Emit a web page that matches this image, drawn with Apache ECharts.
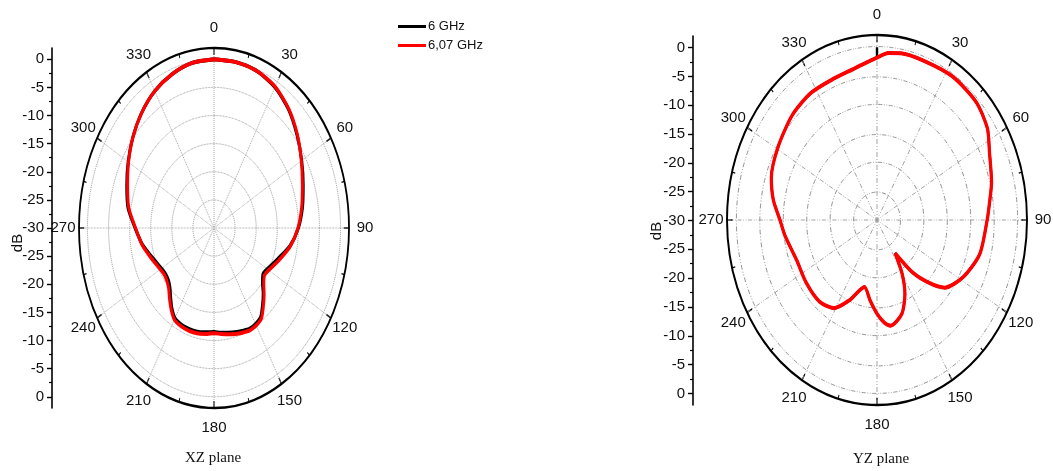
<!DOCTYPE html>
<html><head><meta charset="utf-8">
<script src="https://cdn.jsdelivr.net/npm/echarts@6/dist/echarts.min.js"></script>
<style>
html,body{margin:0;padding:0;background:#fff;}
#wrap{position:relative;width:1053px;height:471px;overflow:hidden;background:#fff;}
#xz,#yz{position:absolute;width:400px;height:400px;}
#xz{left:14px;top:28px;transform:scaleX(0.75);transform-origin:50% 50%;}
#yz{left:677px;top:20px;transform:scaleX(0.8108);transform-origin:50% 50%;}
#ov{position:absolute;left:0;top:0;width:1053px;height:471px;}
</style></head>
<body><div id="wrap"><div id="xz"></div><div id="yz"></div><div id="ov"></div></div>
<script>
// ---------- data ----------
const seriesNames = ['6 GHz', '6,07 GHz'];
const angleTicks = [0,30,60,90,120,150,180,210,240,270,300,330];
const radialTicks = [-30,-25,-20,-15,-10,-5,0];          // dB labels on the side scale
const radialMinor = [-27.5,-22.5,-17.5,-12.5,-7.5,-2.5];
const planeTitles = ['XZ plane', 'YZ plane'];

// XZ plane
const xzAngles = [0,10,20,30,40,50,60,70,80,90,100,110,120,125,130,135,140,145,150,155,160,165,170,175,180,185,190,195,200,205,210,215,220,225,230,235,240,250,260,270,280,290,300,310,320,330,340,350,360];
const xz6GHz   = [0,-0.05,-0.3,-1.1,-2.5,-4.3,-6.0,-7.5,-8.7,-10.0,-11.7,-13.9,-15.4,-15.8,-15.0,-13.5,-12.1,-10.7,-10.3,-10.2,-10.5,-10.8,-11.1,-11.3,-11.5,-11.4,-11.2,-11.1,-11.1,-11.2,-11.5,-12.6,-14.0,-15.2,-15.8,-15.9,-15.6,-14.5,-12.8,-11.3,-9.3,-8.0,-6.5,-4.9,-3.3,-1.9,-0.9,-0.2,0];
const xz607GHz = [0,-0.05,-0.3,-1.0,-2.4,-4.2,-6.1,-7.7,-8.9,-10.1,-11.6,-13.5,-15.0,-15.4,-14.6,-13.2,-11.8,-10.4,-10.0,-9.9,-10.2,-10.5,-10.8,-11.1,-11.3,-11.1,-10.9,-10.8,-10.8,-10.9,-11.2,-12.3,-13.6,-14.8,-15.4,-15.6,-15.3,-14.2,-12.7,-11.4,-9.5,-8.2,-6.6,-4.9,-3.3,-1.9,-0.9,-0.2,0];

// YZ plane
const yzAngles = [0,5,10,20,33,46,56,64,75,82,90,105,118,129,134,140,146,150,155,162,171,175,180,186,193,203,211,221,234,248,262,270,279,288,301,315,327,338,349,355,360];
const yz607GHz = [-1.9,-1.0,-0.7,-0.7,-0.4,-0.6,-1.6,-3.3,-4.7,-5.7,-6.5,-7.3,-9.1,-11.4,-14.2,-18.1,-23.1,-19.3,-15.9,-12.9,-11.5,-12.2,-13.8,-16.0,-18.1,-14.9,-12.2,-11.3,-11.4,-11.5,-10.2,-9.3,-7.6,-6.3,-5.4,-4.4,-3.9,-3.9,-3.4,-2.7,-1.9];
const yz6GHzStartAngle = [0];
const yz6GHzStart = [-0.1];
const yz6GHz = [-1.9,-1.0,-0.7,-0.7,-0.4,-0.6,-1.6,-3.3,-4.7,-5.7,-6.5,-7.3,-9.1,-11.4,-14.2,-18.1,-23.1,-19.3,-15.9,-12.9,-11.5,-12.2,-13.8,-16.0,-18.1,-14.9,-12.2,-11.3,-11.4,-11.5,-10.2,-9.3,-7.6,-6.3,-5.4,-4.4,-3.9,-3.9,-3.4,-2.7,-1.9];

// ---------- helpers ----------
const FONT = '"Liberation Sans", Arial, sans-serif';
function pairs(angles, vals){ return angles.map((a,i)=>[vals[i], a]); }

function polarOption(gridType, seriesList){
  const dotted = gridType === 'dotted' ? 'dotted' : [5,2,1,2,1,2];
  return {
    backgroundColor: 'transparent',
    animation: false,
    polar: { center: ['50%','50%'], radius: gridType === 'dotted' ? 180 : 185 },
    angleAxis: {
      type: 'value', min: 0, max: 360, interval: 30, startAngle: 90, clockwise: true,
      axisLine: { lineStyle: { color: '#000', width: 2.4 } },
      axisTick: { show: true, inside: true, length: 7, lineStyle: { color: '#000', width: 1.6 } },
      minorTick: { show: true, splitNumber: 2, length: 4, lineStyle: { color: '#000', width: 1.2 } },
      axisLabel: { show: false },
      splitLine: { show: true, lineStyle: { color: '#999', width: 1, type: dotted } }
    },
    radiusAxis: {
      type: 'value', min: -30, max: 2, interval: 5,
      axisLine: { show: false }, axisTick: { show: false }, axisLabel: { show: false },
      splitLine: { show: true, lineStyle: { color: '#888', width: 1, type: dotted } }
    },
    series: seriesList
  };
}
function lineSeries(name, color, data, width){
  return { type: 'line', name, coordinateSystem: 'polar', data, showSymbol: false, symbol: 'none',
    smooth: 0.25, lineStyle: { color, width }, itemStyle: { color }, z: 3 };
}

// ---------- polar charts (stretched to ellipses via CSS) ----------
const xzChart = echarts.init(document.getElementById('xz'), null, { renderer: 'svg' });
xzChart.setOption(polarOption('dotted', [
  lineSeries(seriesNames[0], '#000', pairs(xzAngles, xz6GHz), 4),
  lineSeries(seriesNames[1], '#ff0000', pairs(xzAngles, xz607GHz), 4)
]));

const yzChart = echarts.init(document.getElementById('yz'), null, { renderer: 'svg' });
yzChart.setOption(polarOption('dashdot', [
  lineSeries(seriesNames[0], '#000', pairs(yz6GHzStartAngle, yz6GHzStart).concat(pairs(yzAngles, yz6GHz)), 3),
  lineSeries(seriesNames[1], '#ff0000', pairs(yzAngles, yz607GHz), 4)
]));

// ---------- overlay: side dB scales, angle labels, legend, titles ----------
const majorVals = [...new Set(radialTicks.flatMap(d => [d + 30, -(d + 30)]))].sort((a,b)=>a-b);
const minorVals = radialMinor.flatMap(d => [d + 30, -(d + 30)]).sort((a,b)=>a-b);

function sideAxes(gridIndex){
  return [
    { type: 'value', gridIndex, min: -32, max: 32, position: 'left',
      axisLine: { show: true, lineStyle: { color: '#000', width: 1.6 } },
      axisTick: { show: true, customValues: majorVals, length: 5, lineStyle: { color: '#000', width: 1.4 } },
      axisLabel: { show: true, customValues: majorVals, margin: 8, color: '#111', fontSize: 15, fontFamily: FONT,
        formatter: v => String(Math.abs(v) - 30) },
      splitLine: { show: false } },
    { type: 'value', gridIndex, min: -32, max: 32, position: 'left',
      axisLine: { show: false },
      axisTick: { show: true, customValues: minorVals, length: 3, lineStyle: { color: '#000', width: 1.2 } },
      axisLabel: { show: false }, splitLine: { show: false } }
  ];
}

function ringLabels(cx, cy, rx, ry){
  return angleTicks.map(a => {
    const t = a * Math.PI / 180;
    return { type: 'text', silent: true, x: cx + rx * Math.sin(t), y: cy - ry * Math.cos(t),
      style: { text: String(a), font: '15px ' + FONT, fill: '#111', align: 'center', verticalAlign: 'middle' } };
  });
}

const ov = echarts.init(document.getElementById('ov'));
ov.setOption({
  backgroundColor: 'transparent',
  animation: false,
  grid: [
    { left: 52, top: 48, width: 10, height: 360 },
    { left: 693, top: 36, width: 10, height: 369 }
  ],
  xAxis: [ { type: 'value', gridIndex: 0, show: false }, { type: 'value', gridIndex: 1, show: false } ],
  yAxis: sideAxes(0).concat(sideAxes(1)),
  legend: {
    orient: 'vertical', left: 393, top: 15, itemGap: 6, itemWidth: 28, itemHeight: 3, icon: 'rect',
    textStyle: { fontFamily: FONT, fontSize: 13, color: '#111', padding: [0,0,0,-3] },
    data: seriesNames
  },
  series: [
    { type: 'line', name: seriesNames[0], xAxisIndex: 0, yAxisIndex: 0, data: [], itemStyle: { color: '#000' }, lineStyle: { color: '#000' } },
    { type: 'line', name: seriesNames[1], xAxisIndex: 0, yAxisIndex: 0, data: [], itemStyle: { color: '#ff0000' }, lineStyle: { color: '#ff0000' } }
  ],
  graphic: [
    ...ringLabels(214, 228, 151, 200),
    ...ringLabels(877, 220, 166, 205),
    { type: 'text', silent: true, x: 18, y: 243, rotation: Math.PI / 2,
      style: { text: 'dB', font: '15px ' + FONT, fill: '#111', align: 'center', verticalAlign: 'middle' } },
    { type: 'text', silent: true, x: 657, y: 231, rotation: Math.PI / 2,
      style: { text: 'dB', font: '15px ' + FONT, fill: '#111', align: 'center', verticalAlign: 'middle' } },
    { type: 'text', silent: true, x: 213, y: 458,
      style: { text: planeTitles[0], font: '15px "Liberation Serif", "Times New Roman", serif', fill: '#111', align: 'center', verticalAlign: 'middle' } },
    { type: 'text', silent: true, x: 881, y: 459,
      style: { text: planeTitles[1], font: '15px "Liberation Serif", "Times New Roman", serif', fill: '#111', align: 'center', verticalAlign: 'middle' } }
  ]
});
</script>
</body></html>
